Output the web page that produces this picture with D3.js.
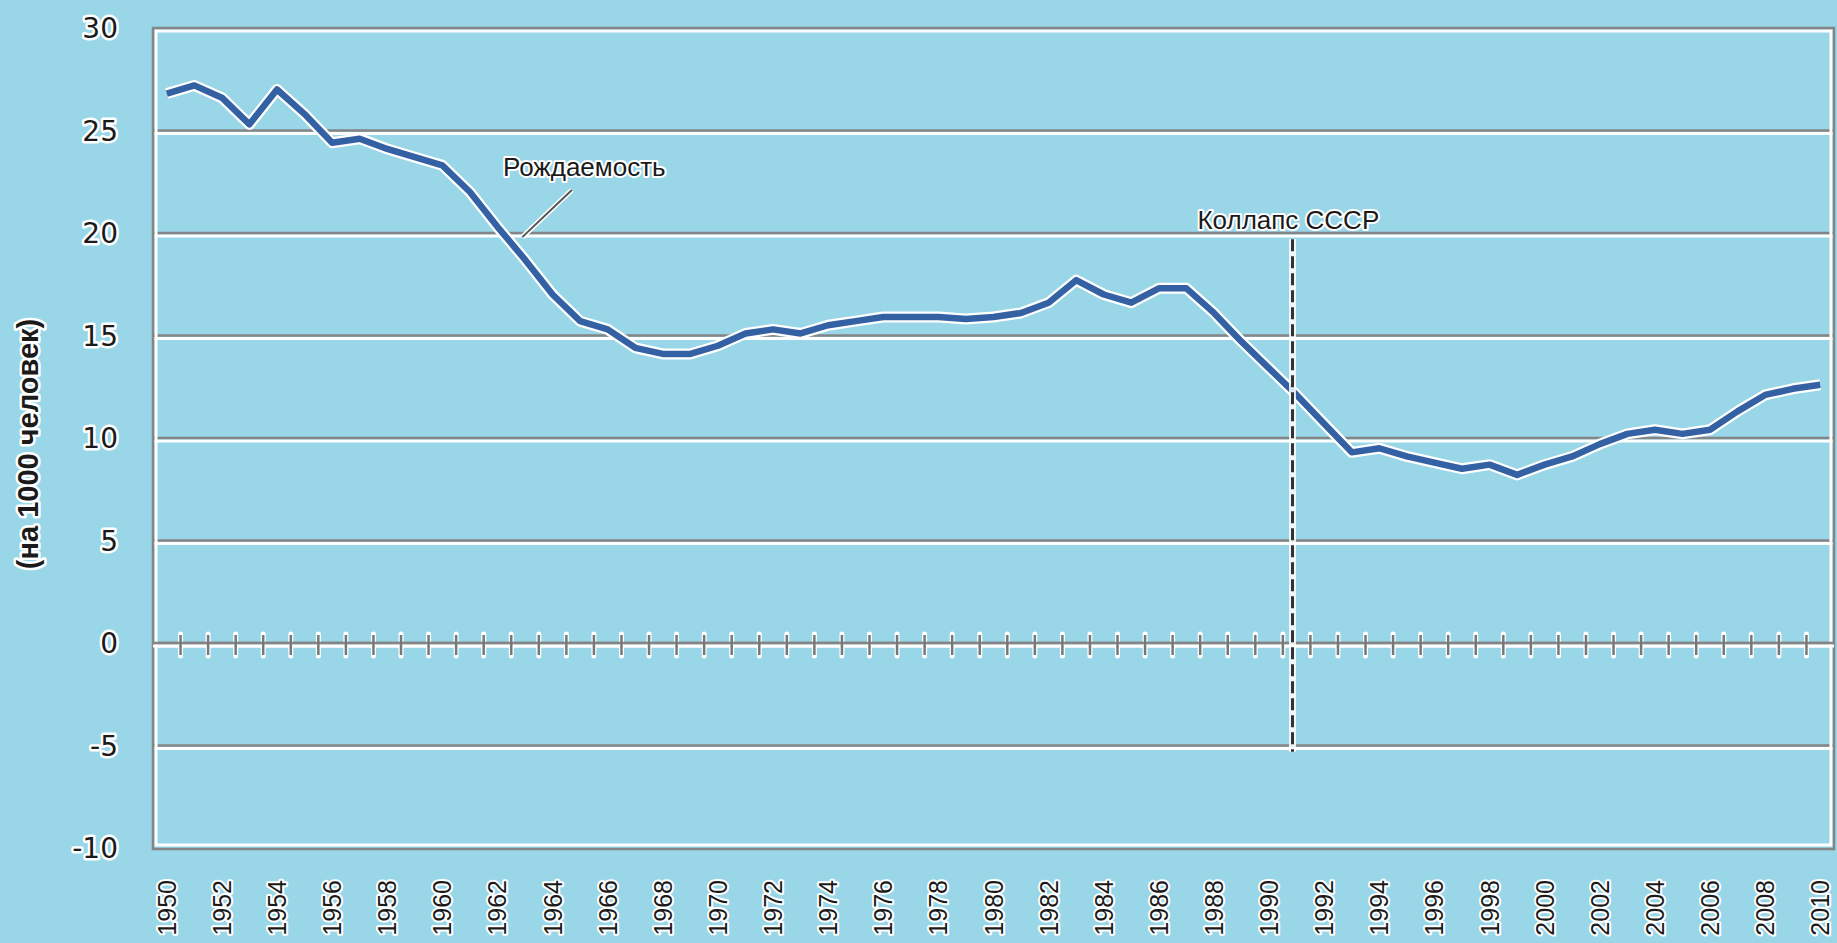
<!DOCTYPE html>
<html><head><meta charset="utf-8">
<script src="https://cdn.jsdelivr.net/npm/d3@7"></script>
<style>
html,body{margin:0;padding:0;background:#98d6e8;overflow:hidden}
text{font-family:"Liberation Sans",Arial,sans-serif;fill:#1a1a1a;paint-order:stroke;stroke:#fff;stroke-linejoin:round}
</style></head>
<body><svg id="c" width="1837" height="943"></svg>
<script>
const years = d3.range(1950, 2011);
const birthRate = [26.8,27.2,26.6,25.3,27.0,25.8,24.4,24.6,24.1,23.7,23.3,22.0,20.3,18.7,17.0,15.7,15.3,14.4,14.1,14.1,
  14.5,15.1,15.3,15.1,15.5,15.7,15.9,15.9,15.9,15.8,15.9,16.1,16.6,17.7,17.0,16.6,17.3,17.3,16.1,14.7,
  13.4,12.1,10.7,9.3,9.5,9.1,8.8,8.5,8.7,8.2,8.7,9.1,9.7,10.2,10.4,10.2,10.4,11.3,12.1,12.4,12.6];
const yTicks = [30,25,20,15,10,5,0,-5,-10];
const xLabels = years.filter(y => (y - 1950) % 2 === 0);
const yTitle = "(на 1000 человек)";
const seriesLabel = {text:"Рождаемость", year:1962.2, value:22.8, lineFrom:[1964.7,22.1], lineTo:[1962.9,19.8]};
const collapse = {text:"Коллапс СССР", year:1990.85, top:19.7, bottom:-5.3, labelYear:1987.4, labelValue:20.2};

const W = 1837, H = 943;
const L = 153, R = 1834, T = 28, B = 848;
const svg = d3.select("#c");
svg.append("rect").attr("width",W).attr("height",H).attr("fill","#98d6e8");

const xb = d3.scaleBand().domain(years).range([L, R]).padding(0);
const bw = xb.bandwidth();
const x = d3.scaleLinear().domain([1950, 2010]).range([xb(1950)+bw/2, xb(2010)+bw/2]);
const y = d3.scaleLinear().domain([-10, 30]).range([B, T]);

// gridlines (grey with white under)
const g = svg.append("g");
yTicks.filter(v => v > -10 && v < 30).forEach(v => {
  g.append("line").attr("x1",L).attr("x2",R).attr("y1",y(v)+3).attr("y2",y(v)+3).attr("stroke","#fff").attr("stroke-width",3);
  g.append("line").attr("x1",L).attr("x2",R).attr("y1",y(v)).attr("y2",y(v)).attr("stroke","#858585").attr("stroke-width",2.5);
});
// frame
g.append("rect").attr("x",L+3).attr("y",T+3).attr("width",R-L-6).attr("height",B-T-6).attr("fill","none").attr("stroke","#fff").attr("stroke-width",3);
g.append("rect").attr("x",L).attr("y",T).attr("width",R-L).attr("height",B-T+1).attr("fill","none").attr("stroke","#858585").attr("stroke-width",2.5);

// category ticks on zero line
const bounds = years.slice(1);
g.selectAll(".tkh").data(bounds).join("line")
  .attr("x1",d=>xb(d)).attr("x2",d=>xb(d)).attr("y1",y(0)-9).attr("y2",y(0)+13)
  .attr("stroke","#fff").attr("stroke-width",5).attr("stroke-linecap","round");
g.append("line").attr("x1",L).attr("x2",R).attr("y1",y(0)+3).attr("y2",y(0)+3).attr("stroke","#fff").attr("stroke-width",3);
g.append("line").attr("x1",L).attr("x2",R).attr("y1",y(0)).attr("y2",y(0)).attr("stroke","#858585").attr("stroke-width",2.5);
g.selectAll(".tk").data(bounds).join("line")
  .attr("x1",d=>xb(d)).attr("x2",d=>xb(d)).attr("y1",y(0)-8).attr("y2",y(0)+12)
  .attr("stroke","#777").attr("stroke-width",2.5);

// y labels
svg.selectAll(".yl").data(yTicks).join("text")
  .attr("x",118).attr("y",d=>y(d)).attr("dy","0.36em").attr("text-anchor","end")
  .style("font-family","'DejaVu Sans',Verdana,sans-serif")
  .attr("font-size",28).attr("stroke-width",5).text(d=>d);

// x labels
svg.selectAll(".xl").data(xLabels).join("text")
  .attr("transform",d=>`translate(${xb(d)+bw/2},880) rotate(-90)`)
  .attr("dy","0.36em").attr("text-anchor","end").attr("font-size",25).attr("stroke-width",4).text(d=>d);

// y title
svg.append("text").attr("transform",`translate(28,444) rotate(-90)`).attr("dy","0.36em")
  .attr("text-anchor","middle").attr("font-size",29).attr("font-weight","bold").attr("stroke-width",5).text(yTitle);

// series
const line = d3.line().x((d,i)=>x(years[i])).y(d=>y(d));
svg.append("path").attr("d",line(birthRate)).attr("fill","none").attr("stroke","#fff").attr("stroke-width",11).attr("stroke-linejoin","round");
svg.append("path").attr("d",line(birthRate)).attr("fill","none").attr("stroke","#3461a3").attr("stroke-width",6.5).attr("stroke-linejoin","round");

// collapse dashed line
svg.append("line").attr("x1",x(collapse.year)).attr("x2",x(collapse.year)).attr("y1",y(collapse.top)).attr("y2",y(collapse.bottom))
  .attr("stroke","#fff").attr("stroke-width",7).attr("opacity",0.85);
svg.append("line").attr("x1",x(collapse.year)).attr("x2",x(collapse.year)).attr("y1",y(collapse.top)).attr("y2",y(collapse.bottom))
  .attr("stroke","#333").attr("stroke-width",3).attr("stroke-dasharray","12 5");
svg.append("text").attr("x",x(collapse.labelYear)).attr("y",y(collapse.labelValue))
  .attr("font-size",26).attr("stroke-width",4).text(collapse.text);

// series label with leader
svg.append("line").attr("x1",x(seriesLabel.lineFrom[0])).attr("y1",y(seriesLabel.lineFrom[1]))
  .attr("x2",x(seriesLabel.lineTo[0])).attr("y2",y(seriesLabel.lineTo[1])).attr("stroke","#fff").attr("stroke-width",5);
svg.append("line").attr("x1",x(seriesLabel.lineFrom[0])).attr("y1",y(seriesLabel.lineFrom[1]))
  .attr("x2",x(seriesLabel.lineTo[0])).attr("y2",y(seriesLabel.lineTo[1])).attr("stroke","#555").attr("stroke-width",2);
svg.append("text").attr("x",x(seriesLabel.year)).attr("y",y(seriesLabel.value))
  .attr("font-size",26).attr("stroke-width",4).text(seriesLabel.text);
</script></body></html>
